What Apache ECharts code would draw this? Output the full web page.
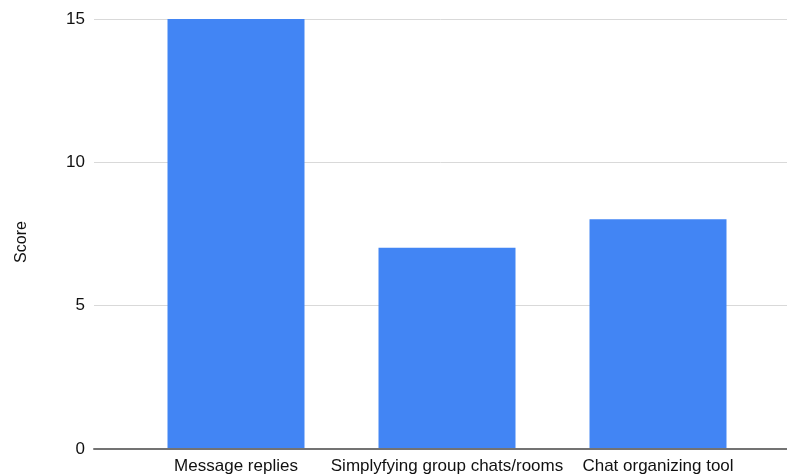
<!DOCTYPE html>
<html>
<head>
<meta charset="utf-8">
<script src="https://cdn.jsdelivr.net/npm/echarts@6/dist/echarts.min.js"></script>
<style>
  html, body { margin: 0; padding: 0; background: #fff; }
  #chart { width: 787px; height: 475px; }
</style>
</head>
<body>
<div id="chart"></div>
<script>
const categories = ['Message replies', 'Simplyfying group chats/rooms', 'Chat organizing tool']
const scores = [15, 7, 8]
const yTicks = [0, 5, 10, 15]

const chart = echarts.init(document.getElementById('chart'))

const font = 'Arial, "Liberation Sans", sans-serif'

// grid 0 carries the y axis and gridlines, grid 1 carries the bars
const option = {
  animation: false,
  grid: [
    { left: 94, right: 0, top: 19, bottom: 26 },
    { left: 130.5, right: 23.5, top: 19, bottom: 26 }
  ],
  xAxis: [
    {
      gridIndex: 0,
      type: 'category',
      data: [''],
      axisLine: { show: true, lineStyle: { color: '#737373', width: 2 } },
      axisTick: { show: false },
      axisLabel: { show: false }
    },
    {
      gridIndex: 1,
      type: 'category',
      data: categories,
      axisLine: { show: false },
      axisTick: { show: false },
      axisLabel: {
        interval: 0,
        color: '#111',
        fontFamily: font,
        fontSize: 17,
        margin: 10
      }
    }
  ],
  yAxis: [
    {
      gridIndex: 0,
      type: 'value',
      min: yTicks[0],
      max: yTicks[yTicks.length - 1],
      interval: 5,
      name: 'Score',
      nameLocation: 'middle',
      nameGap: 64,
      nameTextStyle: { color: '#111', fontFamily: font, fontSize: 16, padding: [0, 16, 0, 0] },
      axisLine: { show: false },
      axisTick: { show: false },
      axisLabel: { color: '#111', fontFamily: font, fontSize: 17, margin: 9 },
      splitLine: { lineStyle: { color: '#d9d9d9', width: 1 } }
    },
    {
      gridIndex: 1,
      type: 'value',
      min: yTicks[0],
      max: yTicks[yTicks.length - 1],
      interval: 5,
      show: false,
      splitLine: { show: false }
    }
  ],
  series: [
    {
      type: 'bar',
      xAxisIndex: 1,
      yAxisIndex: 1,
      data: scores,
      barWidth: 137,
      itemStyle: { color: '#4285f4' }
    }
  ]
}

chart.setOption(option)
</script>
</body>
</html>
